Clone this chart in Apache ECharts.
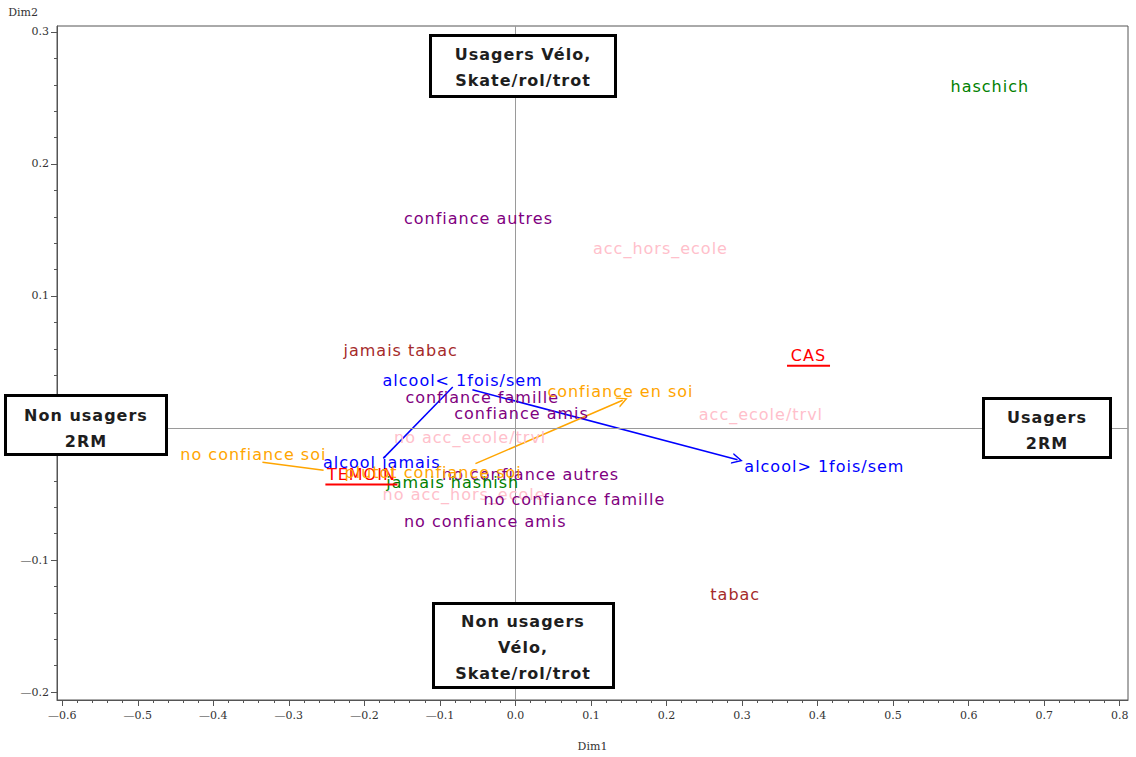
<!DOCTYPE html>
<html>
<head>
<meta charset="utf-8">
<script src="https://cdn.jsdelivr.net/npm/echarts@6/dist/echarts.min.js"></script>
<style>
  html, body { margin: 0; padding: 0; background: #fff; }
  #chart { width: 1136px; height: 757px; }
  #chart text[style*="DejaVu Sans"], #chart text[font-family*="DejaVu Sans"] { letter-spacing: 1px; }
</style>
</head>
<body>
<div id="chart"></div>
<script>
// ---------- data ----------
const names = ['acc_hors_ecole', 'acc_ecole/trvl', 'no acc_ecole/trvl', 'no acc_hors_ecole',
  'confiance autres', 'confiance famille', 'confiance amis', 'no confiance autres', 'no confiance famille', 'no confiance amis',
  'jamais tabac', 'tabac',
  'haschich', 'jamais hashish',
  'alcool< 1fois/sem', 'alcool> 1fois/sem', 'alcool jamais',
  'CAS', 'TEMOIN',
  'confiance en soi', 'no confiance soi', 'plutot confiance soi'];
const dim1 = [0.192, 0.325, -0.060, -0.068,
  -0.049, -0.044, 0.008, 0.020, 0.078, -0.040,
  -0.152, 0.291,
  0.628, -0.083,
  -0.070, 0.409, -0.177,
  0.388, -0.204,
  0.139, -0.347, -0.109];
const dim2 = [0.136, 0.010, -0.007, -0.050,
  0.159, 0.023, 0.011, -0.035, -0.054, -0.071,
  0.059, -0.126,
  0.259, -0.041,
  0.036, -0.029, -0.026,
  0.054, -0.036,
  0.028, -0.020, -0.034];
const groups = ['acc', 'acc', 'acc', 'acc',
  'conf', 'conf', 'conf', 'conf', 'conf', 'conf',
  'tabac', 'tabac',
  'hash', 'hash',
  'alcool', 'alcool', 'alcool',
  'groupe', 'groupe',
  'soi', 'soi', 'soi'];

// trajectories (segments) drawn between modalities
const alcoolSegPlain = [[[-0.175, -0.023], [-0.083, 0.031]]];
const alcoolSegArrow = [[[-0.057, 0.029], [0.294, -0.024]]];
const soiSegPlain = [[[-0.335, -0.026], [-0.254, -0.032]]];
const soiSegArrow = [[[-0.053, -0.027], [0.142, 0.021]]];

const xMajor = [-0.6, -0.5, -0.4, -0.3, -0.2, -0.1, 0, 0.1, 0.2, 0.3, 0.4, 0.5, 0.6, 0.7, 0.8];
const yMajor = [-0.2, -0.1, 0, 0.1, 0.2, 0.3];
const xMinor = [-0.58, -0.56, -0.54, -0.52, -0.48, -0.46, -0.44, -0.42, -0.38, -0.36, -0.34, -0.32,
  -0.28, -0.26, -0.24, -0.22, -0.18, -0.16, -0.14, -0.12, -0.08, -0.06, -0.04, -0.02,
  0.02, 0.04, 0.06, 0.08, 0.12, 0.14, 0.16, 0.18, 0.22, 0.24, 0.26, 0.28, 0.32, 0.34, 0.36, 0.38,
  0.42, 0.44, 0.46, 0.48, 0.52, 0.54, 0.56, 0.58, 0.62, 0.64, 0.66, 0.68, 0.72, 0.74, 0.76, 0.78];
const yMinor = [-0.18, -0.16, -0.14, -0.12, -0.08, -0.06, -0.04, -0.02,
  0.02, 0.04, 0.06, 0.08, 0.12, 0.14, 0.16, 0.18, 0.22, 0.24, 0.26, 0.28];

const boxTexts = ['Usagers Vélo,\nSkate/rol/trot', 'Non usagers\n2RM', 'Usagers\n2RM', 'Non usagers\nVélo,\nSkate/rol/trot'];

// ---------- styles ----------
const groupColors = {acc: '#ffc0cb', conf: '#800080', tabac: '#a52a2a', hash: '#008000',
  alcool: '#0000ff', groupe: '#ff0000', soi: '#ffa500'};
const groupOrder = ['acc', 'conf', 'tabac', 'hash', 'alcool', 'groupe', 'soi'];
const underlineWidth = {'CAS': 43, 'TEMOIN': 72};
const labelFont = 'DejaVu Sans';
const axisFont = 'DejaVu Serif';

function fmt(v) {
  const a = Math.abs(v).toFixed(1);
  return v < -1e-9 ? '\u2014' + a : a;
}

function richFor(g, w) {
  return {
    t: {color: groupColors[g], fontFamily: labelFont, fontSize: 16, lineHeight: 18, opacity: 1},
    u: {height: 2, lineHeight: 2, width: w, backgroundColor: groupColors[g], opacity: 1}
  };
}

const series = [];
groupOrder.forEach(g => {
  const data = [];
  names.forEach((n, i) => {
    if (groups[i] !== g) return;
    const item = {name: n, value: [dim1[i], dim2[i]]};
    if (underlineWidth[n]) item.label = {rich: richFor(g, underlineWidth[n])};
    data.push(item);
  });
  series.push({
    type: 'scatter',
    silent: true,
    symbolSize: 2,
    itemStyle: {color: 'rgba(0,0,0,0)', opacity: 1},
    emphasis: {disabled: true},
    z: 5,
    label: {
      show: true,
      position: 'inside',
      color: groupColors[g],
      opacity: 1,
      fontFamily: labelFont,
      fontSize: 16,
      formatter: p => underlineWidth[p.name] ? '{t|' + p.name + '}\n{u|}' : p.name,
      rich: richFor(g, 40)
    },
    data: data
  });
});

const chevron = 'path://M5,0L10,10L8.6,10L5,2.8L1.4,10L0,10Z';
function segSeries(segs, color, arrow) {
  return {
    type: 'lines',
    coordinateSystem: 'cartesian2d',
    silent: true,
    z: 4,
    symbol: arrow ? ['none', chevron] : ['none', 'none'],
    symbolSize: 11,
    lineStyle: {color: color, width: 1.5, opacity: 1},
    data: segs.map(s => ({coords: s}))
  };
}
series.push(segSeries(alcoolSegPlain, groupColors.alcool, false));
series.push(segSeries(alcoolSegArrow, groupColors.alcool, true));
series.push(segSeries(soiSegPlain, groupColors.soi, false));
series.push(segSeries(soiSegArrow, groupColors.soi, true));

// reference lines at 0
series.push({
  type: 'scatter', data: [], silent: true, z: 1,
  markLine: {
    silent: true, symbol: ['none', 'none'], label: {show: false},
    lineStyle: {color: '#9a9a9a', type: 'solid', width: 1},
    data: [{xAxis: 0}, {yAxis: 0}]
  }
});

const boxes = [
  {rect: [430.5, 35.5, 185, 61], center: [523, 67]},
  {rect: [5.5, 395.5, 161, 59], center: [86, 428]},
  {rect: [983.5, 398.5, 127, 59], center: [1047, 430]},
  {rect: [433.5, 603.5, 180, 84], center: [523, 647]}
];
const graphic = [];
boxes.forEach((b, i) => {
  graphic.push({
    type: 'rect', z: 100, silent: true,
    shape: {x: b.rect[0], y: b.rect[1], width: b.rect[2], height: b.rect[3]},
    style: {fill: '#ffffff', stroke: '#000000', lineWidth: 3}
  });
  graphic.push({
    type: 'text', z: 101, silent: true,
    x: b.center[0], y: b.center[1],
    style: {text: boxTexts[i], fill: '#1e1e1e', font: 'bold 16px DejaVu Sans',
      align: 'center', verticalAlign: 'middle', textAlign: 'center', textVerticalAlign: 'middle', lineHeight: 26}
  });
});

const axisCommon = {
  type: 'value',
  splitLine: {show: false},
};
const xRange = {min: -0.607, max: 0.811};
const yRange = {min: -0.206, max: 0.3045};

const option = {
  animation: false,
  backgroundColor: '#ffffff',
  grid: {left: 57, right: 8, top: 26, bottom: 52, show: true, borderColor: '#555', borderWidth: 1},
  xAxis: [
    Object.assign({}, axisCommon, xRange, {
      position: 'bottom',
      name: 'Dim1', nameLocation: 'middle', nameGap: 41,
      nameTextStyle: {fontFamily: axisFont, fontSize: 11, color: '#333'},
      axisLine: {show: true, onZero: false, lineStyle: {color: '#555'}},
      axisTick: {show: true, length: 6, customValues: xMajor, lineStyle: {color: '#555'}},
      axisLabel: {customValues: xMajor, formatter: fmt, margin: 10, fontFamily: axisFont, fontSize: 11, color: '#333'}
    }),
    Object.assign({}, axisCommon, xRange, {
      position: 'bottom',
      axisLine: {show: false, onZero: false},
      axisTick: {show: true, length: 3, customValues: xMinor, lineStyle: {color: '#555'}},
      axisLabel: {show: false}
    })
  ],
  yAxis: [
    Object.assign({}, axisCommon, yRange, {
      position: 'left',
      name: 'Dim2', nameLocation: 'end', nameGap: 8,
      nameTextStyle: {fontFamily: axisFont, fontSize: 11, color: '#333', align: 'right', padding: [0, 19, 0, 0]},
      axisLine: {show: true, onZero: false, lineStyle: {color: '#555'}},
      axisTick: {show: true, length: 6, customValues: yMajor, lineStyle: {color: '#555'}},
      axisLabel: {customValues: yMajor, formatter: fmt, margin: 8, fontFamily: axisFont, fontSize: 11, color: '#333'}
    }),
    Object.assign({}, axisCommon, yRange, {
      position: 'left',
      axisLine: {show: false, onZero: false},
      axisTick: {show: true, length: 3, customValues: yMinor, lineStyle: {color: '#555'}},
      axisLabel: {show: false}
    })
  ],
  series: series,
  graphic: graphic
};

const chart = echarts.init(document.getElementById('chart'), null, {renderer: 'svg', width: 1136, height: 757});
chart.setOption(option);
</script>
</body>
</html>
